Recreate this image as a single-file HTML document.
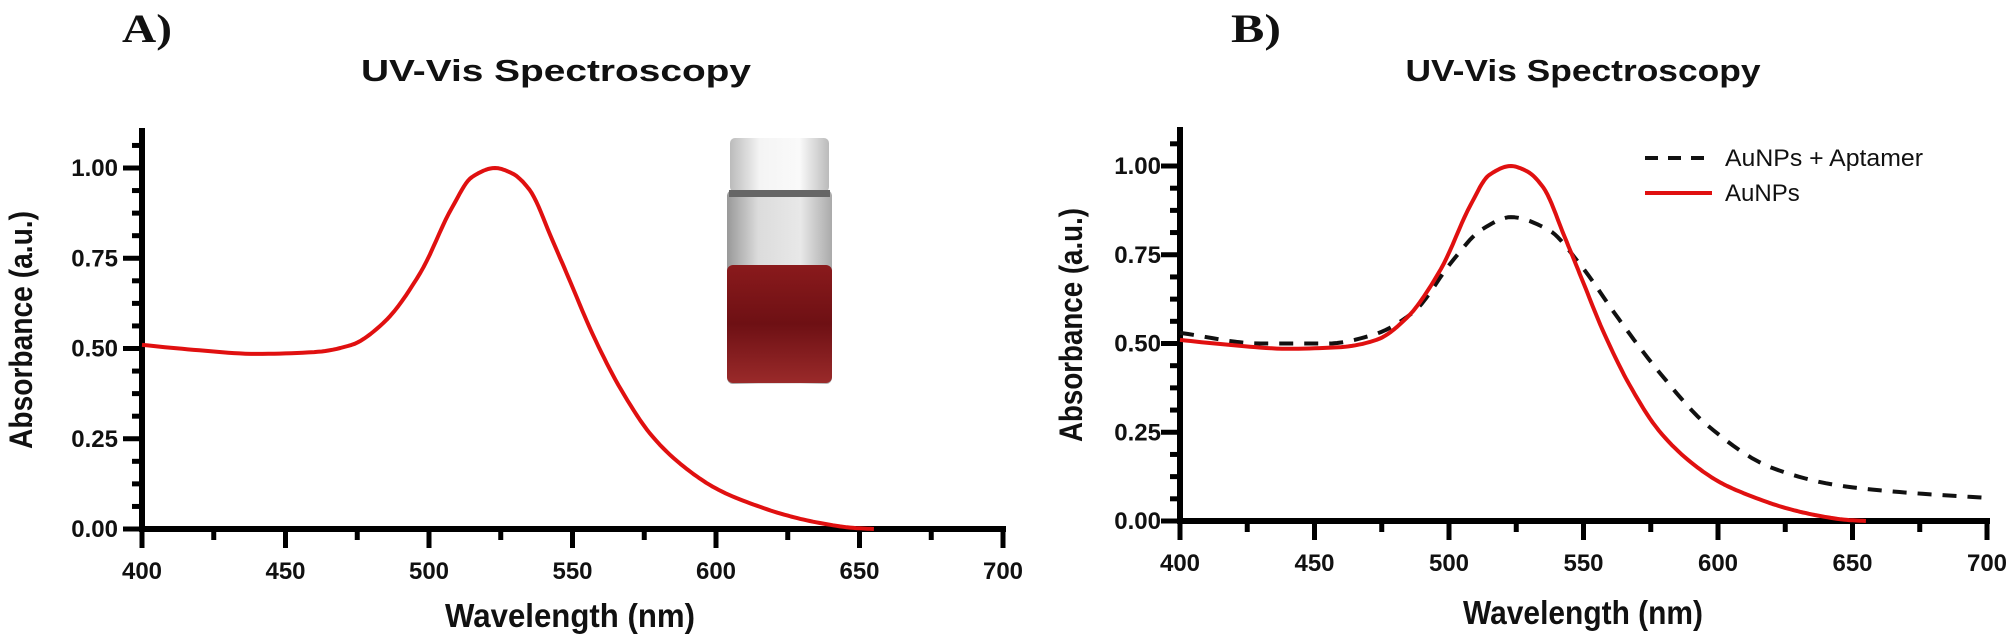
<!DOCTYPE html>
<html><head><meta charset="utf-8"><style>
html,body{margin:0;padding:0;background:#fff;}
svg{display:block;}
text{font-family:"Liberation Sans",Arial,sans-serif;fill:#111;}
.tl{font-size:24px;font-weight:bold;}
</style></head><body>
<svg id="s" width="2008" height="642" viewBox="0 0 2008 642" xmlns="http://www.w3.org/2000/svg">
<defs>
<linearGradient id="cap" x1="0" x2="1"><stop offset="0" stop-color="#bbb"/><stop offset="0.3" stop-color="#f4f4f4"/><stop offset="0.7" stop-color="#fafafa"/><stop offset="1" stop-color="#bbb"/></linearGradient>
<linearGradient id="glass" x1="0" x2="1"><stop offset="0" stop-color="#999"/><stop offset="0.3" stop-color="#dcdcdc"/><stop offset="0.7" stop-color="#e8e8e8"/><stop offset="1" stop-color="#aaa"/></linearGradient>
<linearGradient id="liq" x1="0" y1="0" x2="0" y2="1"><stop offset="0" stop-color="#8a1a1c"/><stop offset="0.5" stop-color="#6e1014"/><stop offset="1" stop-color="#9a2a2a"/></linearGradient>
</defs>
<text x="122" y="42" style="font-family:'Liberation Serif',serif;font-weight:bold;font-size:40px" textLength="50" lengthAdjust="spacingAndGlyphs">A)</text>
<text x="1231" y="42" style="font-family:'Liberation Serif',serif;font-weight:bold;font-size:40px" textLength="50" lengthAdjust="spacingAndGlyphs">B)</text>
<text x="556" y="81" text-anchor="middle" font-size="31" font-weight="bold" textLength="390" lengthAdjust="spacingAndGlyphs">UV-Vis Spectroscopy</text>
<text x="1583" y="81" text-anchor="middle" font-size="31" font-weight="bold" textLength="355" lengthAdjust="spacingAndGlyphs">UV-Vis Spectroscopy</text>
<text x="570" y="627" text-anchor="middle" font-size="33" font-weight="bold" textLength="250" lengthAdjust="spacingAndGlyphs">Wavelength (nm)</text>
<text x="1583" y="624" text-anchor="middle" font-size="33" font-weight="bold" textLength="240" lengthAdjust="spacingAndGlyphs">Wavelength (nm)</text>
<text transform="translate(32,330) rotate(-90)" text-anchor="middle" font-size="32" font-weight="bold" textLength="238" lengthAdjust="spacingAndGlyphs">Absorbance (a.u.)</text>
<text transform="translate(1082,325) rotate(-90)" text-anchor="middle" font-size="32" font-weight="bold" textLength="234" lengthAdjust="spacingAndGlyphs">Absorbance (a.u.)</text>
<g>
<rect x="727" y="190" width="105" height="194" rx="6" fill="url(#glass)"/>
<rect x="727" y="265" width="105" height="118" rx="6" fill="url(#liq)"/>
<rect x="730" y="138" width="99" height="54" rx="5" fill="url(#cap)"/>
<rect x="729" y="190" width="101" height="7" fill="#666"/>
</g>
<g id="ga"></g>
<line x1="1645" y1="158" x2="1712" y2="158" stroke="#111" stroke-width="4" stroke-dasharray="13,10"/>
<line x1="1645" y1="193" x2="1712" y2="193" stroke="#e01010" stroke-width="4"/>
<text x="1725" y="166" font-size="24" textLength="198" lengthAdjust="spacingAndGlyphs">AuNPs + Aptamer</text>
<text x="1725" y="201" font-size="24">AuNPs</text>
</svg>
<script>
var s=document.getElementById('ga'),NS='http://www.w3.org/2000/svg';
function el(t,a){var e=document.createElementNS(NS,t);for(var k in a)e.setAttribute(k,a[k]);s.appendChild(e);return e;}
function axes(x0,x1,y0,y1,top,lab){
 el('line',{x1:x0,y1:top,x2:x0,y2:y0+3,stroke:'#000','stroke-width':6});
 el('line',{x1:x0-3,y1:y0,x2:x1+3,y2:y0,stroke:'#000','stroke-width':6});
 var py=(y0-y1)/16;
 for(var i=0;i<=17;i++){var y=y0-i*py;if(y<top)break;var maj=i%4==0;
  el('line',{x1:x0-(maj?19:10),y1:y,x2:x0,y2:y,stroke:'#000','stroke-width':5});
  if(maj&&i<=16){var t=el('text',{x:lab,y:y+8,'text-anchor':'end','class':'tl'});t.textContent=(i/16).toFixed(2);}}
 var px=(x1-x0)/12;
 for(var j=0;j<=12;j++){var x=x0+j*px,maj=j%2==0;
  el('line',{x1:x,y1:y0,x2:x,y2:y0+(maj?19:11),stroke:'#000','stroke-width':5});
  if(maj){var t=el('text',{x:x,y:y0+50,'text-anchor':'middle','class':'tl'});t.textContent=400+j*25;}}
}
// monotone cubic (Fritsch-Carlson) interpolation sampled densely
function interp(pts){
 var n=pts.length,x=pts.map(p=>p[0]),y=pts.map(p=>p[1]),d=[],m=[];
 for(var i=0;i<n-1;i++)d.push((y[i+1]-y[i])/(x[i+1]-x[i]));
 m[0]=d[0];m[n-1]=d[n-2];
 for(i=1;i<n-1;i++){if(d[i-1]*d[i]<=0)m[i]=0;else{var h0=x[i]-x[i-1],h1=x[i+1]-x[i];m[i]=3*(h0+h1)/((2*h1+h0)/d[i-1]+(h1+2*h0)/d[i]);}}
 var out=[];
 for(i=0;i<n-1;i++){var h=x[i+1]-x[i];for(var k=0;k<10;k++){var t=k/10,t2=t*t,t3=t2*t;
  out.push([x[i]+t*h,(2*t3-3*t2+1)*y[i]+(t3-2*t2+t)*h*m[i]+(-2*t3+3*t2)*y[i+1]+(t3-t2)*h*m[i+1]]);}}
 out.push(pts[n-1]);return out;
}
function path(pts,x0,x1,y0,y1,attrs){
 var P=interp(pts).map(function(p){return [(x0+(p[0]-400)/300*(x1-x0)).toFixed(1),(y0-p[1]*(y0-y1)).toFixed(1)];});
 attrs.d='M'+P.map(p=>p.join(',')).join(' L');attrs.fill='none';attrs['stroke-linejoin']='round';el('path',attrs);
}
var red=[[400,.51],[420,.495],[440,.485],[460,.49],[473,.51],[484,.57],[497,.71],[508,.89],[515,.975],[523,1.0],[529,.985],[535,.94],[543,.80],[550,.67],[557,.54],[567,.385],[578,.255],[590,.165],[601,.108],[613,.068],[625,.037],[636,.017],[648,.003],[655,0]];
var blk=[[400,.53],[430,.50],[455,.50],[472,.525],[487,.59],[501,.73],[512,.82],[523,.856],[537,.82],[549,.72],[563,.57],[577,.43],[596,.27],[620,.15],[645,.10],[670,.08],[700,.065]];
axes(142,1003,529,168,128,118);
path(red,142,1003,529,168,{stroke:'#e01010','stroke-width':4});
axes(1180,1987,521,166,127,1161);
path(blk,1180,1987,521,166,{stroke:'#111','stroke-width':4,'stroke-dasharray':'14,11'});
path(red,1180,1987,521,166,{stroke:'#e01010','stroke-width':4});
</script>
</body></html>
